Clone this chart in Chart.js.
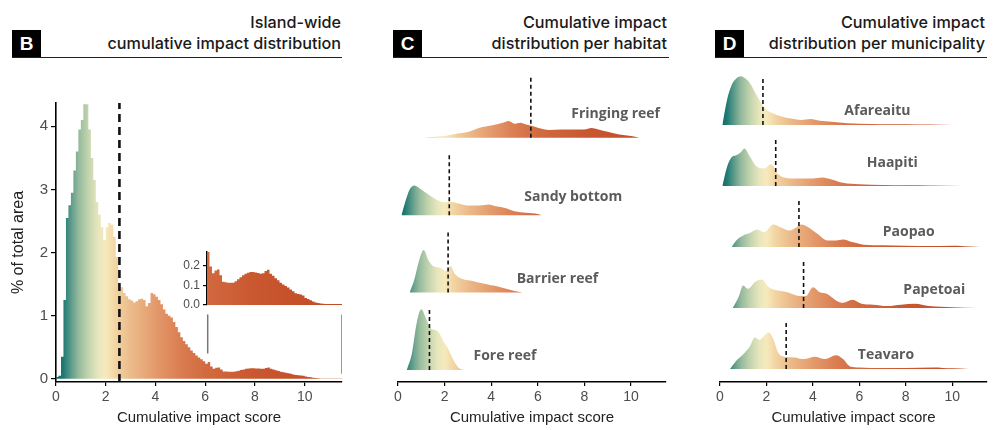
<!DOCTYPE html>
<html>
<head>
<meta charset="utf-8">
<script src="https://cdn.jsdelivr.net/npm/chart.js@4.4.1/dist/chart.umd.min.js"></script>
<style>
  body { margin: 0; background: #fff; }
  #page { position: relative; width: 996px; height: 430px; overflow: hidden; }
  .tag { position: absolute; top: 30px; width: 29px; height: 27px; background: #000; color: #fff;
         font: bold 19px "Liberation Sans", Arial, sans-serif; text-align: center; line-height: 28px; }
  .rule { position: absolute; top: 57px; height: 1.3px; background: #222; }
  .ttl { position: absolute; top: 12px; width: 320px; text-align: right; color: #1a1a1a;
         font: 500 16.2px Inter, "Liberation Sans", sans-serif; line-height: 21px; }
  .box { position: absolute; }
</style>
</head>
<body>
<div id="page">
  <div class="tag" style="left:12px">B</div>
  <div class="rule" style="left:12px;width:330px"></div>
  <div class="ttl" style="left:21px">Island-wide<br>cumulative impact distribution</div>

  <div class="tag" style="left:393px">C</div>
  <div class="rule" style="left:393px;width:276px"></div>
  <div class="ttl" style="left:347px">Cumulative impact<br>distribution per habitat</div>

  <div class="tag" style="left:715px">D</div>
  <div class="rule" style="left:715px;width:272px"></div>
  <div class="ttl" style="left:665px">Cumulative impact<br>distribution per municipality</div>

  <div class="box" style="left:0;top:60px"><canvas id="histB" width="350" height="370"></canvas></div>
  <div class="box" style="left:150px;top:240px"><canvas id="insetB" width="200" height="80"></canvas></div>
  <div class="box" style="left:380px;top:60px"><canvas id="ridgeC" width="300" height="370"></canvas></div>
  <div class="box" style="left:700px;top:60px"><canvas id="ridgeD" width="296" height="370"></canvas></div>
</div>
<script>
// ---- data ----
// island-wide histogram, bins of 0.1 starting at 0 (% of total area)
const binWidth = 0.1;
const impactHist = [
  0.03, 0.05, 0.35, 1.25, 2.55, 2.75, 2.95, 3.3, 3.6, 3.95,
  4.1, 4.35, 4.35, 3.95, 3.5, 3.15, 2.8, 2.6, 2.4, 2.2,
  2.4, 2.47, 2.44, 2.25, 1.93, 1.48, 1.45, 1.36, 1.31, 1.26,
  1.24, 1.21, 1.23, 1.26, 1.27, 1.25, 1.15, 1.2, 1.36, 1.34,
  1.3, 1.25, 1.18, 1.1, 1.03, 1.0, 0.97, 0.9, 0.82, 0.74,
  0.66, 0.6, 0.55, 0.5, 0.45, 0.41, 0.37, 0.34, 0.31, 0.28,
  0.24, 0.268, 0.195, 0.16, 0.175, 0.18, 0.15, 0.118, 0.115, 0.112,
  0.112, 0.112, 0.12, 0.13, 0.14, 0.15, 0.158, 0.163, 0.167, 0.167,
  0.164, 0.162, 0.158, 0.16, 0.172, 0.178, 0.158, 0.148, 0.135, 0.125,
  0.112, 0.104, 0.096, 0.088, 0.079, 0.07, 0.06, 0.056, 0.053, 0.048,
  0.036, 0.03, 0.024, 0.018, 0.013, 0.01, 0.007, 0.006, 0.005, 0.005,
  0.005, 0.005, 0.005, 0.005, 0.005
];
const islandMean = 2.55;
const insetStart = 6.1;
const scoreMax = 11.5;

// habitat densities [score, density], bottom row first
const habitatNames = ['Fore reef', 'Barrier reef', 'Sandy bottom', 'Fringing reef'];
const habitatMeans = [1.35, 2.15, 2.2, 5.7];
const foreReef = [[0.38,0],[0.6,0.213],[0.8,0.588],[1.0,0.763],[1.2,0.65],[1.4,0.525],[1.7,0.488],[2.0,0.338],[2.2,0.238],[2.4,0.113],[2.6,0.029],[2.85,0]];
const barrierReef = [[0.5,0],[0.7,0.163],[0.9,0.396],[1.1,0.534],[1.3,0.413],[1.5,0.334],[1.8,0.313],[2.1,0.271],[2.25,0.334],[2.45,0.229],[2.8,0.166],[3.2,0.146],[3.6,0.116],[4.0,0.091],[4.2,0.084],[4.6,0.05],[5.0,0.021],[5.35,0]];
const sandyBottom = [[0.15,0],[0.3,0.154],[0.5,0.321],[0.7,0.371],[1.0,0.321],[1.3,0.259],[1.6,0.204],[2.0,0.163],[2.3,0.166],[2.6,0.146],[3.0,0.121],[3.5,0.121],[3.9,0.134],[4.2,0.113],[4.6,0.091],[5.0,0.05],[5.5,0.029],[6.0,0.013],[6.15,0]];
const fringingReef = [[1.15,0],[1.5,0.008],[2.0,0.021],[2.5,0.05],[3.0,0.071],[3.5,0.125],[4.0,0.154],[4.5,0.188],[4.75,0.209],[5.0,0.175],[5.25,0.188],[5.5,0.166],[5.75,0.146],[6.0,0.125],[6.5,0.096],[7.0,0.104],[7.5,0.104],[8.0,0.104],[8.3,0.121],[8.6,0.104],[9.0,0.075],[9.5,0.041],[10.0,0.021],[10.35,0]];

// municipality densities, bottom row first
const municipalityNames = ['Teavaro', 'Papetoai', 'Paopao', 'Haapiti', 'Afareaitu'];
const municipalityMeans = [2.85, 3.6, 3.4, 2.4, 1.85];
const teavaro = [[0.43,0],[0.7,0.083],[1.0,0.15],[1.3,0.233],[1.5,0.317],[1.7,0.293],[1.9,0.333],[2.1,0.367],[2.3,0.3],[2.5,0.167],[2.8,0.123],[3.2,0.117],[3.6,0.1],[4.1,0.123],[4.5,0.1],[5.0,0.14],[5.3,0.1],[5.6,0.027],[6.0,0.017],[7.0,0.01],[8.0,0.01],[9.2,0.017],[10.0,0.007],[10.7,0]];
const papetoai = [[0.55,0],[0.8,0.11],[1.0,0.227],[1.2,0.193],[1.5,0.26],[1.8,0.287],[2.1,0.21],[2.5,0.177],[2.9,0.16],[3.3,0.127],[3.7,0.12],[4.0,0.21],[4.3,0.16],[4.6,0.143],[5.0,0.077],[5.3,0.053],[5.7,0.083],[6.1,0.043],[6.6,0.033],[7.2,0.02],[7.8,0.033],[8.4,0.043],[9.0,0.02],[10.0,0.007],[11.1,0]];
const paopao = [[0.5,0],[0.7,0.067],[1.0,0.117],[1.3,0.143],[1.6,0.177],[1.9,0.15],[2.3,0.227],[2.6,0.2],[3.0,0.167],[3.3,0.2],[3.5,0.227],[3.8,0.2],[4.2,0.133],[4.6,0.067],[5.0,0.067],[5.3,0.077],[5.7,0.05],[6.2,0.023],[7.0,0.017],[8.0,0.013],[9.0,0.01],[10.0,0.013],[11.0,0.003],[11.4,0]];
const haapiti = [[0.1,0],[0.3,0.19],[0.5,0.29],[0.7,0.31],[0.9,0.34],[1.05,0.377],[1.3,0.293],[1.6,0.193],[1.9,0.177],[2.2,0.22],[2.5,0.12],[3.0,0.077],[3.5,0.077],[4.0,0.077],[4.4,0.087],[4.8,0.067],[5.3,0.033],[6.0,0.017],[7.0,0.01],[8.0,0.007],[9.0,0.005],[10.45,0]];
const afareaitu = [[0.1,0],[0.3,0.25],[0.5,0.4],[0.7,0.467],[0.9,0.49],[1.1,0.467],[1.3,0.417],[1.5,0.333],[1.7,0.25],[2.0,0.157],[2.3,0.117],[2.7,0.083],[3.0,0.067],[3.5,0.05],[3.9,0.06],[4.3,0.043],[4.8,0.033],[5.5,0.017],[6.5,0.01],[7.5,0.007],[8.5,0.005],[9.5,0.003],[10.6,0]];

// ---- styling ----
const rampStops = [[0,'#0b6664'],[0.3,'#1f7a73'],[0.6,'#5b9a8b'],[0.9,'#94b99c'],[1.3,'#c2d4ae'],[1.7,'#e8e6bd'],
  [2.0,'#f6eabc'],[2.4,'#f2d4a2'],[3.0,'#ecbb8b'],[4.0,'#e49a6c'],[5.0,'#da7d51'],[6.0,'#d26a40'],[8.0,'#c9572f'],[11.5,'#c04a25']];
const axisFont = { family: '"Liberation Sans", Arial, sans-serif', size: 14 };
const titleFont = { family: '"Liberation Sans", Arial, sans-serif', size: 15 };
const tickGrey = '#4d4d4d';

function ramp(chart) {
  const x = chart.scales.x;
  const x0 = x.getPixelForValue(0), x1 = x.getPixelForValue(scoreMax);
  const g = chart.ctx.createLinearGradient(x0, 0, x1, 0);
  rampStops.forEach(([v, c]) => g.addColorStop(v / scoreMax, c));
  return g;
}
const rampFill = ctx => ctx.chart.chartArea ? ramp(ctx.chart) : '#e09060';

function scoreAxis(extra) {
  return Object.assign({
    type: 'linear', min: 0, max: scoreMax,
    border: { display: true, color: '#000', width: 1.6 },
    grid: { display: true, drawOnChartArea: false, drawTicks: true, tickLength: 4, color: '#000', lineWidth: 1.2 },
    ticks: { stepSize: 2, includeBounds: false, color: tickGrey, font: axisFont, padding: 3, maxRotation: 0 },
    title: { display: true, text: 'Cumulative impact score', color: '#222', font: titleFont, padding: { top: 2, bottom: 3 } },
    afterFit: s => { s.height = 48; }
  }, extra || {});
}

const baseOpts = {
  responsive: false, animation: false,
  plugins: { legend: { display: false }, tooltip: { enabled: false } },
  elements: { point: { radius: 0 } }
};

// ---- panel B: island-wide histogram ----
const histPoints = impactHist.map((v, i) => ({ x: +(i * binWidth).toFixed(2), y: v }));
histPoints.push({ x: scoreMax, y: impactHist[impactHist.length - 1] });
const yTop = 4.37, yBottom = -0.05;

new Chart(document.getElementById('histB'), {
  type: 'line',
  data: {
    datasets: [
      { data: [{ x: islandMean, y: yBottom }, { x: islandMean, y: yTop }], borderColor: '#111', borderWidth: 2.6, borderDash: [8, 5], fill: false },
      { data: [{ x: insetStart, y: 1.02 }, { x: insetStart, y: 0.4 }], borderColor: '#777', borderWidth: 1.5, fill: false },
      { data: [{ x: scoreMax, y: 1.02 }, { x: scoreMax, y: 0.08 }], borderColor: '#777', borderWidth: 1.5, fill: false },
      { data: histPoints, stepped: 'before', fill: 'origin', backgroundColor: rampFill, borderWidth: 0, borderColor: 'transparent' }
    ]
  },
  options: Object.assign({}, baseOpts, {
    layout: { padding: { top: 43, right: 8, left: 0, bottom: 0 } },
    scales: {
      x: scoreAxis(),
      y: {
        type: 'linear', min: yBottom, max: yTop,
        border: { display: true, color: '#000', width: 1.6 },
        grid: { display: true, drawOnChartArea: false, tickLength: 5, color: '#000', lineWidth: 1.2 },
        ticks: { stepSize: 1, includeBounds: false, color: tickGrey, font: { family: axisFont.family, size: 15 }, padding: 3 },
        title: { display: true, text: '% of total area', color: '#222', font: { family: titleFont.family, size: 16 }, padding: { top: 9, bottom: 2 } },
        afterFit: s => { s.width = 56; }
      }
    }
  })
});

// inset: tail of the same histogram
new Chart(document.getElementById('insetB'), {
  type: 'line',
  data: {
    datasets: [{
      data: histPoints.filter(p => p.x >= insetStart - 1e-9),
      stepped: 'before', fill: 'origin', backgroundColor: rampFill, borderWidth: 0, borderColor: 'transparent'
    }]
  },
  options: Object.assign({}, baseOpts, {
    layout: { padding: { top: 12, right: 8, left: 0, bottom: 15 } },
    scales: {
      x: { type: 'linear', min: insetStart, max: scoreMax, display: false },
      y: {
        type: 'linear', min: 0, max: 0.268,
        border: { display: true, color: '#000', width: 1.4 },
        grid: { display: true, drawOnChartArea: false, tickLength: 4, color: '#000', lineWidth: 1.2 },
        ticks: { stepSize: 0.1, includeBounds: false, color: tickGrey, font: { family: axisFont.family, size: 12 }, padding: 3,
                 callback: v => v.toFixed(1) },
        afterFit: s => { s.width = 57; }
      }
    }
  })
});

// ---- ridgeline panels ----
const ridgeLabels = {
  id: 'ridgeLabels',
  afterDatasetsDraw(chart, args, opts) {
    const { ctx, scales: { x, y } } = chart;
    ctx.save();
    ctx.font = '700 14px "Open Sans", sans-serif';
    ctx.fillStyle = '#5b5b5b';
    ctx.textAlign = 'center';
    ctx.textBaseline = 'middle';
    opts.names.forEach((n, i) => ctx.fillText(n, x.getPixelForValue(opts.pos[i][0]), y.getPixelForValue(i + opts.pos[i][1])));
    ctx.restore();
  }
};

function ridgeChart(id, names, means, curves, cfg) {
  const meanSets = means.map((m, i) => ({
    data: [{ x: m, y: i }, { x: m, y: i + cfg.meanLen }],
    borderColor: '#111', borderWidth: 1.6, borderDash: [4, 3], fill: false
  }));
  const ridgeSets = curves.map((c, i) => ({
    data: c.map(([s, d]) => ({ x: s, y: i + d * cfg.rowsPerDensity })),
    fill: { value: i }, backgroundColor: rampFill, borderWidth: 0, borderColor: 'transparent',
    cubicInterpolationMode: 'monotone'
  }));
  return new Chart(document.getElementById(id), {
    type: 'line',
    data: { datasets: meanSets.concat(ridgeSets) },
    plugins: [ridgeLabels],
    options: Object.assign({}, baseOpts, {
      layout: { padding: cfg.padding },
      plugins: Object.assign({}, baseOpts.plugins, { ridgeLabels: { names: names, pos: cfg.labelPos } }),
      scales: {
        x: scoreAxis(),
        y: { type: 'linear', min: cfg.yMin, max: cfg.yMax, display: false }
      }
    })
  });
}

ridgeChart('ridgeC', habitatNames, habitatMeans, [foreReef, barrierReef, sandyBottom, fringingReef], {
  rowsPerDensity: 1.03, meanLen: 0.79, yMin: -0.154, yMax: 3.874,
  padding: { top: 10, right: 14, left: 18, bottom: 0 },
  labelPos: [[4.59, 0.18], [6.84, 0.17], [7.52, 0.24], [9.34, 0.31]]
});

ridgeChart('ridgeD', municipalityNames, municipalityMeans, [teavaro, papetoai, paopao, haapiti, afareaitu], {
  rowsPerDensity: 1.63, meanLen: 0.77, yMin: -0.212, yMax: 4.984,
  padding: { top: 5, right: 9, left: 20, bottom: 0 },
  labelPos: [[7.15, 0.23], [9.23, 0.29], [8.13, 0.24], [7.42, 0.38], [6.78, 0.23]]
});
</script>
</body>
</html>
